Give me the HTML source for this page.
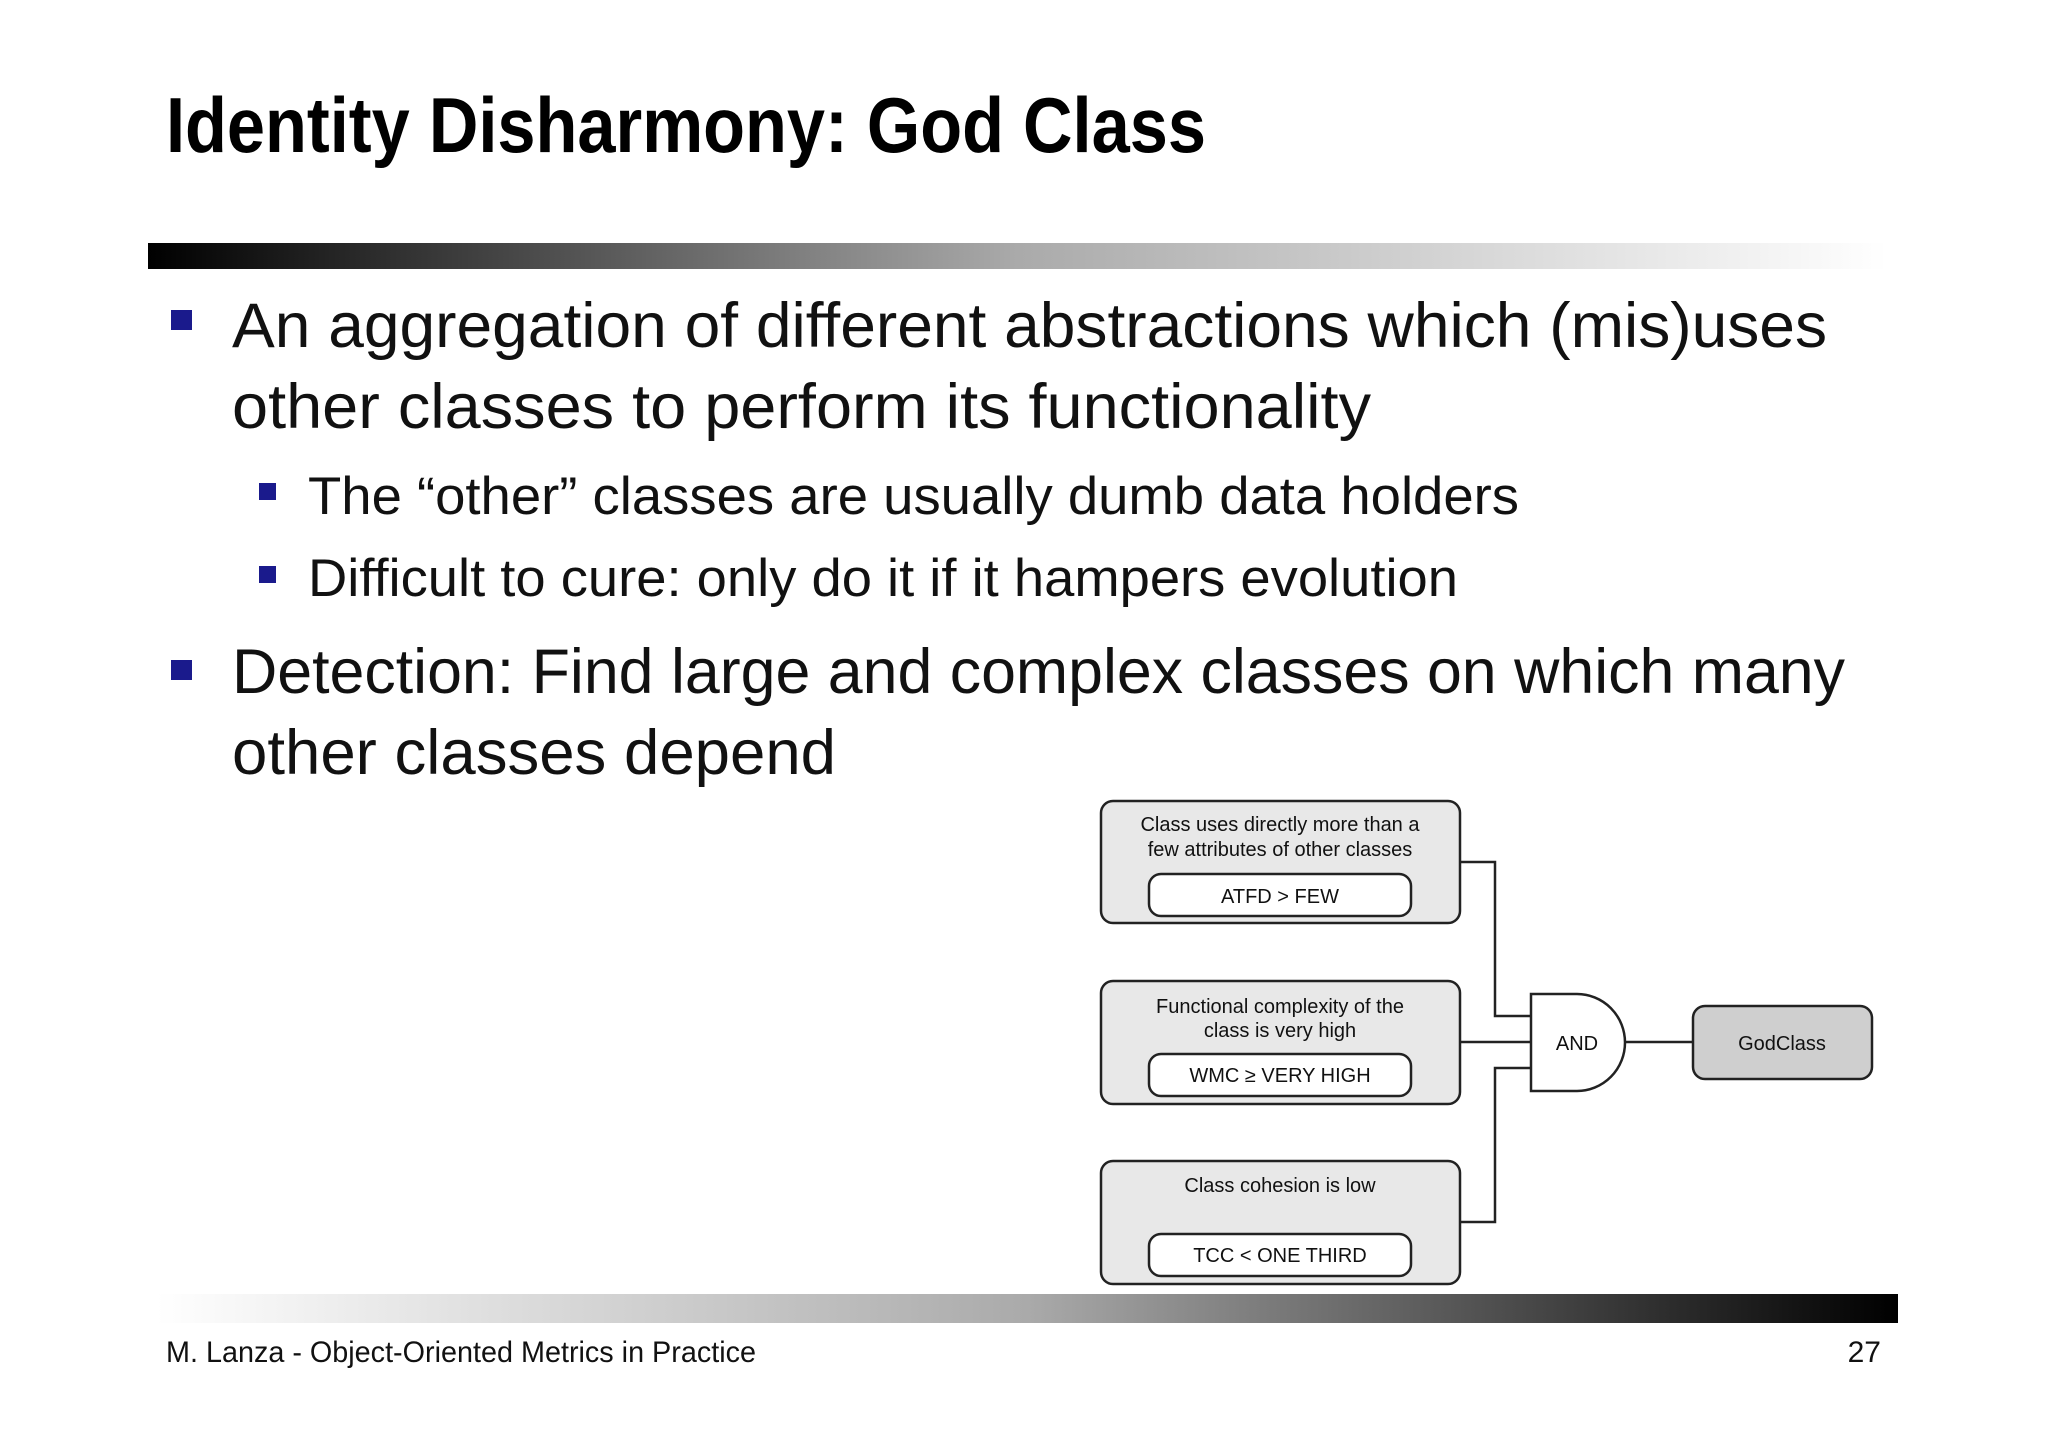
<!DOCTYPE html>
<html><head><meta charset="utf-8"><style>html,body{margin:0;padding:0;background:#fff}svg{display:block}</style></head>
<body>
<svg width="2048" height="1447" viewBox="0 0 2048 1447" xmlns="http://www.w3.org/2000/svg" font-family="Liberation Sans, sans-serif">
<defs>
<linearGradient id="g1" x1="0" x2="1" y1="0" y2="0"><stop offset="0" stop-color="#000"/><stop offset="0.5" stop-color="#aaa"/><stop offset="1" stop-color="#fff"/></linearGradient>
<linearGradient id="g2" x1="0" x2="1" y1="0" y2="0"><stop offset="0" stop-color="#fff"/><stop offset="0.5" stop-color="#aaa"/><stop offset="1" stop-color="#000"/></linearGradient>
</defs>
<text x="166" y="152" font-size="78" font-weight="bold" textLength="1040" lengthAdjust="spacingAndGlyphs">Identity Disharmony: God Class</text>
<rect x="148" y="243" width="1739" height="26" fill="url(#g1)"/>
<rect x="157" y="1294" width="1741" height="29" fill="url(#g2)"/>
<g fill="#1a1a8c">
<rect x="171" y="310" width="21" height="20"/>
<rect x="259" y="483" width="17" height="17"/>
<rect x="259" y="566" width="17" height="17"/>
<rect x="171" y="660" width="21" height="20"/>
</g>
<g font-size="63" fill="#111">
<text x="232" y="347" textLength="1595" lengthAdjust="spacingAndGlyphs">An aggregation of different abstractions which (mis)uses</text>
<text x="232" y="428" textLength="1139" lengthAdjust="spacingAndGlyphs">other classes to perform its functionality</text>
<text x="232" y="693" textLength="1613" lengthAdjust="spacingAndGlyphs">Detection: Find large and complex classes on which many</text>
<text x="232" y="774" textLength="604" lengthAdjust="spacingAndGlyphs">other classes depend</text>
</g>
<g font-size="53" fill="#111">
<text x="308" y="514" textLength="1211" lengthAdjust="spacingAndGlyphs">The “other” classes are usually dumb data holders</text>
<text x="308" y="596" textLength="1150" lengthAdjust="spacingAndGlyphs">Difficult to cure: only do it if it hampers evolution</text>
</g>
<text x="166" y="1362" font-size="30" fill="#111" textLength="590" lengthAdjust="spacingAndGlyphs">M. Lanza - Object-Oriented Metrics in Practice</text>
<text x="1881" y="1362" font-size="30" fill="#111" text-anchor="end">27</text>

<g stroke="#222" stroke-width="2.5" fill="none">
<polyline points="1460,862 1495,862 1495,1016 1531,1016"/>
<line x1="1460" y1="1042" x2="1531" y2="1042"/>
<polyline points="1460,1222 1495,1222 1495,1068 1531,1068"/>
<line x1="1625" y1="1042" x2="1693" y2="1042"/>
</g>
<g stroke="#222" stroke-width="2.5">
<rect x="1101" y="801" width="359" height="122" rx="12" fill="#e8e8e8"/>
<rect x="1101" y="981" width="359" height="123" rx="12" fill="#e8e8e8"/>
<rect x="1101" y="1161" width="359" height="123" rx="12" fill="#e8e8e8"/>
<rect x="1149" y="874" width="262" height="42" rx="12" fill="#fff"/>
<rect x="1149" y="1054" width="262" height="42" rx="12" fill="#fff"/>
<rect x="1149" y="1234" width="262" height="42" rx="12" fill="#fff"/>
<path d="M1531,994 L1577,994 A48,48.5 0 0 1 1577,1091 L1531,1091 Z" fill="#fff"/>
<rect x="1693" y="1006" width="179" height="73" rx="12" fill="#cfcfcf"/>
</g>
<g font-size="20" fill="#111" text-anchor="middle">
<text x="1280" y="831">Class uses directly more than a</text>
<text x="1280" y="856">few attributes of other classes</text>
<text x="1280" y="903">ATFD &gt; FEW</text>
<text x="1280" y="1013">Functional complexity of the</text>
<text x="1280" y="1037">class is very high</text>
<text x="1280" y="1082">WMC ≥ VERY HIGH</text>
<text x="1280" y="1192">Class cohesion is low</text>
<text x="1280" y="1262">TCC &lt; ONE THIRD</text>
<text x="1577" y="1050">AND</text>
<text x="1782" y="1050">GodClass</text>
</g>
</svg>
</body></html>
